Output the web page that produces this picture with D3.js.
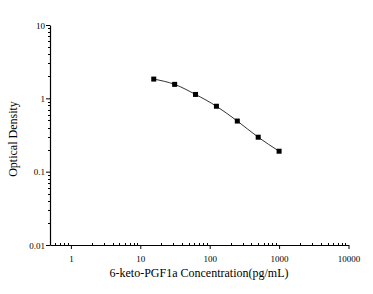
<!DOCTYPE html>
<html><head><meta charset="utf-8">
<script src="https://cdn.jsdelivr.net/npm/d3@7"></script>
<style>body{margin:0;background:#fff}svg{display:block}</style>
</head><body><svg id="c" width="373" height="294"></svg>
<script>
const concentrations = [15.625, 31.25, 62.5, 125, 250, 500, 1000];
const odValues = [1.83, 1.55, 1.13, 0.78, 0.49, 0.295, 0.19];
const xTickValues = [1, 10, 100, 1000, 10000];
const yTickValues = [0.01, 0.1, 1, 10];
const yTickLabels = ["0.01", "0.1", "1", "10"];
const xTitle = "6-keto-PGF1a Concentration(pg/mL)";
const yTitle = "Optical Density";

const svg = d3.select("#c");
const L = 50, R = 348.5, T = 25, B = 245;
const x = d3.scaleLog().domain([0.5, 10000]).range([L, R]);
const y = d3.scaleLog().domain([0.01, 10]).range([B, T]);
const font = "'Liberation Serif','Times New Roman',serif";

// minor ticks
const xMinor = [];
for (let d = 0.1; d < 10000; d *= 10) for (let k = 2; k <= 9; k++) { const v = d * k; if (v >= 0.5 && v < 10000 && !xTickValues.includes(v)) xMinor.push(v); }
const yMinor = [];
for (let d = 0.01; d < 10; d *= 10) for (let k = 2; k <= 9; k++) yMinor.push(d * k);

const g = svg.append("g").attr("shape-rendering", "crispEdges");
g.selectAll(".xm").data(xMinor).join("line")
  .attr("x1", d => Math.round(x(d)) + 0.5).attr("x2", d => Math.round(x(d)) + 0.5)
  .attr("y1", B - 2).attr("y2", B).attr("stroke", "#000");
g.selectAll(".ym").data(yMinor).join("line")
  .attr("y1", d => Math.round(y(d)) + 0.5).attr("y2", d => Math.round(y(d)) + 0.5)
  .attr("x1", L - 2).attr("x2", L).attr("stroke", "#000");

const xAxis = d3.axisBottom(x).tickValues(xTickValues).tickSize(4).tickSizeOuter(0).tickFormat(d3.format("d"));
const yAxis = d3.axisLeft(y).tickValues(yTickValues).tickSize(4).tickSizeOuter(0).tickFormat((d, i) => yTickLabels[i]);

const gx = svg.append("g").attr("transform", `translate(0,${B})`).call(xAxis);
const gy = svg.append("g").attr("transform", `translate(${L},0)`).call(yAxis);
[gx, gy].forEach(a => {
  a.select(".domain").attr("stroke", "#000").attr("stroke-width", 1.2);
  a.selectAll(".tick line").attr("stroke", "#000");
  a.selectAll("text").attr("font-family", font).attr("font-size", 9).attr("fill", "#000");
});
gx.selectAll("text").attr("dy", "1.1em");
gy.selectAll("text").attr("x", -5).attr("dy", "0.35em");

svg.append("text").attr("x", 199).attr("y", 277).attr("text-anchor", "middle")
  .attr("font-family", font).attr("font-size", 12).text(xTitle);
svg.append("text").attr("transform", "translate(17,139) rotate(-90)").attr("text-anchor", "middle")
  .attr("font-family", font).attr("font-size", 12).text(yTitle);

const line = d3.line().x((d, i) => x(concentrations[i])).y(d => y(d)).curve(d3.curveMonotoneX);
svg.append("path").attr("d", line(odValues)).attr("fill", "none").attr("stroke", "#333").attr("stroke-width", 1);
svg.selectAll(".pt").data(odValues).join("rect")
  .attr("x", (d, i) => x(concentrations[i]) - 2.5).attr("y", d => y(d) - 2.5)
  .attr("width", 5).attr("height", 5).attr("fill", "#000");
</script></body></html>
